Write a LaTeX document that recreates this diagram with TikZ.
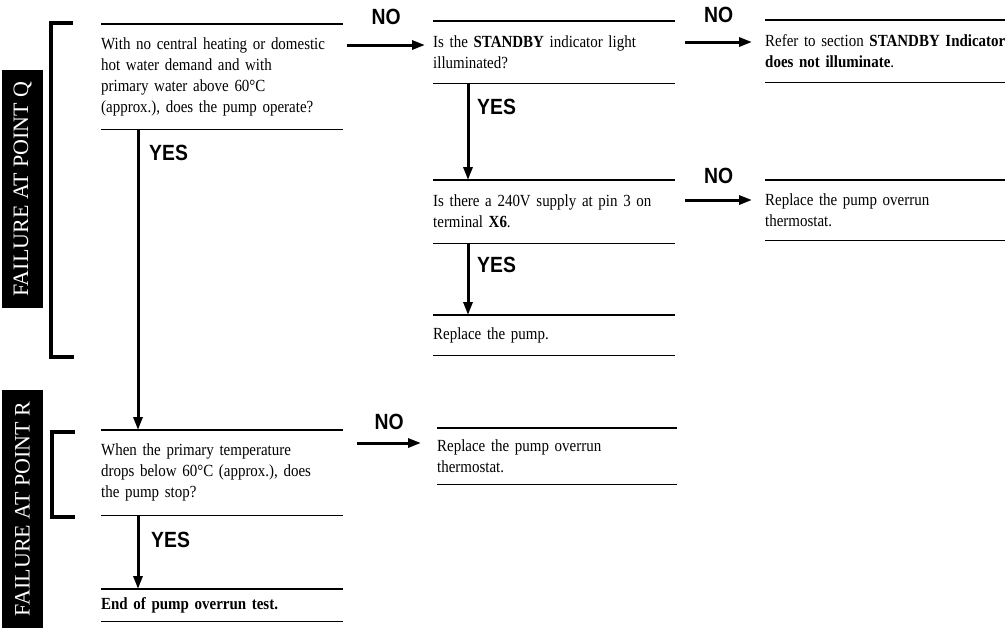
\documentclass[tikz,border=0pt]{standalone}
\usepackage{fontspec}
\setmainfont{Liberation Serif}[FakeStretch=0.88, WordSpace=0.8]
\newfontfamily\tagfont{Liberation Serif}
\newfontfamily\yesfont{Liberation Sans}[FakeStretch=0.88]
\usetikzlibrary{arrows.meta}
\begin{document}
\begin{tikzpicture}[x=1pt,y=-1pt,
 every node/.style={font=\fontsize{17}{21}\selectfont},
 stepbox/.style={anchor=north west, inner xsep=0pt, inner ysep=0pt, align=left},
 rule/.style={line width=1.1pt},
 arr/.style={line width=3pt, -{Triangle[length=13pt,width=9pt]}},
 ans/.style={font=\yesfont\bfseries\fontsize{22}{22}\selectfont, inner sep=0pt},
 tag/.style={fill=black, text=white, rotate=90, minimum width=238pt, minimum height=41pt, inner sep=0pt, font=\tagfont\fontsize{22}{22}\selectfont},
 bracket/.style={line width=3.5pt, line join=miter}
]
\useasboundingbox (0,0) rectangle (1005,630);

% failure tags and brackets
\node[tag] (tagq) at (22.5,189) {FAILURE AT POINT Q};
\node[tag] (tagr) at (22.5,509) {FAILURE AT POINT R};
\draw[bracket] (73,23) -- (51,23) -- (51,357) -- (74,357);
\draw[bracket] (75,432) -- (52,432) -- (52,517) -- (75,517);

% column A
\node[stepbox, text width=242pt, minimum height=105pt] (a1) at (101,24)
 {With no central heating or domestic\\hot water demand and with\\primary water above 60°C\\(approx.), does the pump operate?};
\node[stepbox, text width=242pt, minimum height=85pt] (a2) at (101,430)
 {When the primary temperature\\drops below 60°C (approx.), does\\the pump stop?};
\node[stepbox, text width=242pt, minimum height=32pt] (a3) at (101,589)
 {\textbf{End of pump overrun test.}};

% column B
\node[stepbox, text width=242pt, minimum height=62pt] (b1) at (433,21)
 {Is the \textbf{STANDBY} indicator light\\illuminated?};
\node[stepbox, text width=242pt, minimum height=63pt] (b2) at (433,180)
 {Is there a 240V supply at pin 3 on\\terminal \textbf{X6}.};
\node[stepbox, text width=242pt, minimum height=40pt] (b3) at (433,315)
 {Replace the pump.};
\node[stepbox, text width=240pt, minimum height=56pt] (c3) at (437,428)
 {Replace the pump overrun\\thermostat.};

% column C
\node[stepbox, text width=242pt, minimum height=62pt] (c1) at (765,20)
 {\mbox{Refer to section \textbf{STANDBY Indicator}}\\\textbf{does not illuminate}.};
\node[stepbox, text width=242pt, minimum height=60pt] (c2) at (765,180)
 {Replace the pump overrun\\thermostat.};

\foreach \n in {a1,a2,a3,b1,b2,b3,c1,c2,c3}
 \draw[rule] (\n.north west) -- (\n.north east) (\n.south west) -- (\n.south east);

% NO arrows
\draw[arr] ([shift={(4,21)}]a1.north east) -- ([shift={(-8,24)}]b1.north west)
 node[ans, midway, yshift=28pt] (no1) {NO};
\draw[arr] ([shift={(10,21)}]b1.north east) -- ([shift={(-13,22)}]c1.north west)
 node[ans, midway, yshift=27pt] (no2) {NO};
\draw[arr] ([shift={(10,20)}]b2.north east) -- ([shift={(-13,20)}]c2.north west)
 node[ans, midway, yshift=24pt] (no3) {NO};
\draw[arr] ([shift={(14,13)}]a2.north east) -- ([shift={(-16,15)}]c3.north west)
 node[ans, midway, yshift=21pt] (no4) {NO};

% YES arrows
\draw[arr] ([xshift=37pt]a1.south west) -- ([xshift=37pt]a2.north west);
\draw[arr] ([xshift=37pt]a2.south west) -- ([xshift=37pt]a3.north west);
\draw[arr] ([xshift=35pt]b1.south west) -- ([xshift=35pt]b2.north west);
\draw[arr] ([xshift=35pt]b2.south west) -- ([xshift=35pt]b3.north west);
\node[ans, anchor=west] (yes1) at (149,153) {YES};
\node[ans, anchor=west] (yes2) at (151,540) {YES};
\node[ans, anchor=west] (yes3) at (477,107) {YES};
\node[ans, anchor=west] (yes4) at (477,265) {YES};
\end{tikzpicture}
\end{document}
